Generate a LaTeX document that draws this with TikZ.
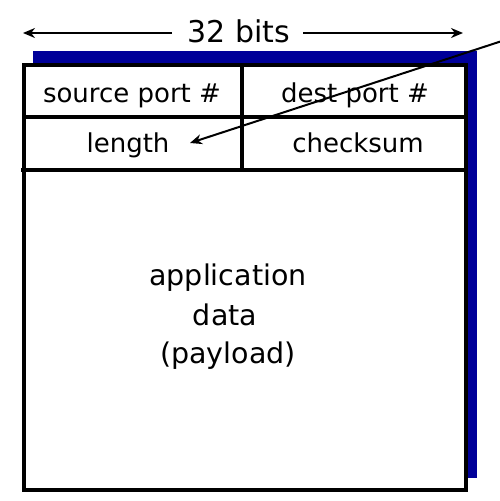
\documentclass[tikz,border=0pt]{standalone}
\usepackage{fontspec}
\setmainfont{DejaVu Sans}
\usetikzlibrary{arrows.meta}
\definecolor{shadowblue}{RGB}{0,0,153}
\begin{document}
\begin{tikzpicture}[x=1pt,y=-1pt,
  lbl/.style={inner sep=0pt,anchor=base,font=\fontsize{26}{30}\selectfont},
  big/.style={inner sep=0pt,anchor=base,font=\fontsize{30}{36}\selectfont},
  applbl/.style={inner sep=0pt,anchor=base,font=\fontsize{28.5}{40}\selectfont},
  boxline/.style={line width=4pt},
  thinarrow/.style={line width=2pt,-{Stealth[length=12pt,width=10pt]}}]
\useasboundingbox (0,0) rectangle (500,501);
% shadow and box
\coordinate (sh1) at (33,51);
\coordinate (sh2) at (477,478);
\fill[shadowblue] (sh1) rectangle (sh2);
\coordinate (b1) at (24,65);
\coordinate (b2) at (466,490);
\filldraw[boxline,fill=white] (b1) rectangle (b2);
\coordinate (r1l) at (24,117);
\coordinate (r1r) at (466,117);
\coordinate (r2l) at (21,170);
\coordinate (r2r) at (466,170);
\coordinate (vt) at (242,65);
\coordinate (vb) at (242,170);
\draw[boxline] (r1l) -- (r1r);
\draw[boxline] (r2l) -- (r2r);
\draw[boxline] (vt) -- (vb);
% labels
\node[lbl] (src) at (132,102) {source port \#};
\node[lbl] (dst) at (355,102) {dest port \#};
\node[lbl] (len) at (128,152) {length};
\node[lbl] (chk) at (358,152) {checksum};
\node[big] (bits) at (239,42) {32 bits};
\node[applbl] (app) at (228,285) {application};
\node[applbl] (dat) at (225,325) {data};
\node[applbl] (pay) at (228,363) {(payload)};
% 32 bits arrows
\coordinate (la) at (23,33);
\coordinate (ra) at (463,33);
\coordinate (lb) at (172,33);
\coordinate (rb) at (303,33);
\draw[thinarrow] (lb) -- (la);
\draw[thinarrow] (rb) -- (ra);
% diagonal arrow
\coordinate (dstart) at (505,40);
\coordinate (dend) at (190,143);
\draw[thinarrow] (dstart) -- (dend);
\end{tikzpicture}
\end{document}
